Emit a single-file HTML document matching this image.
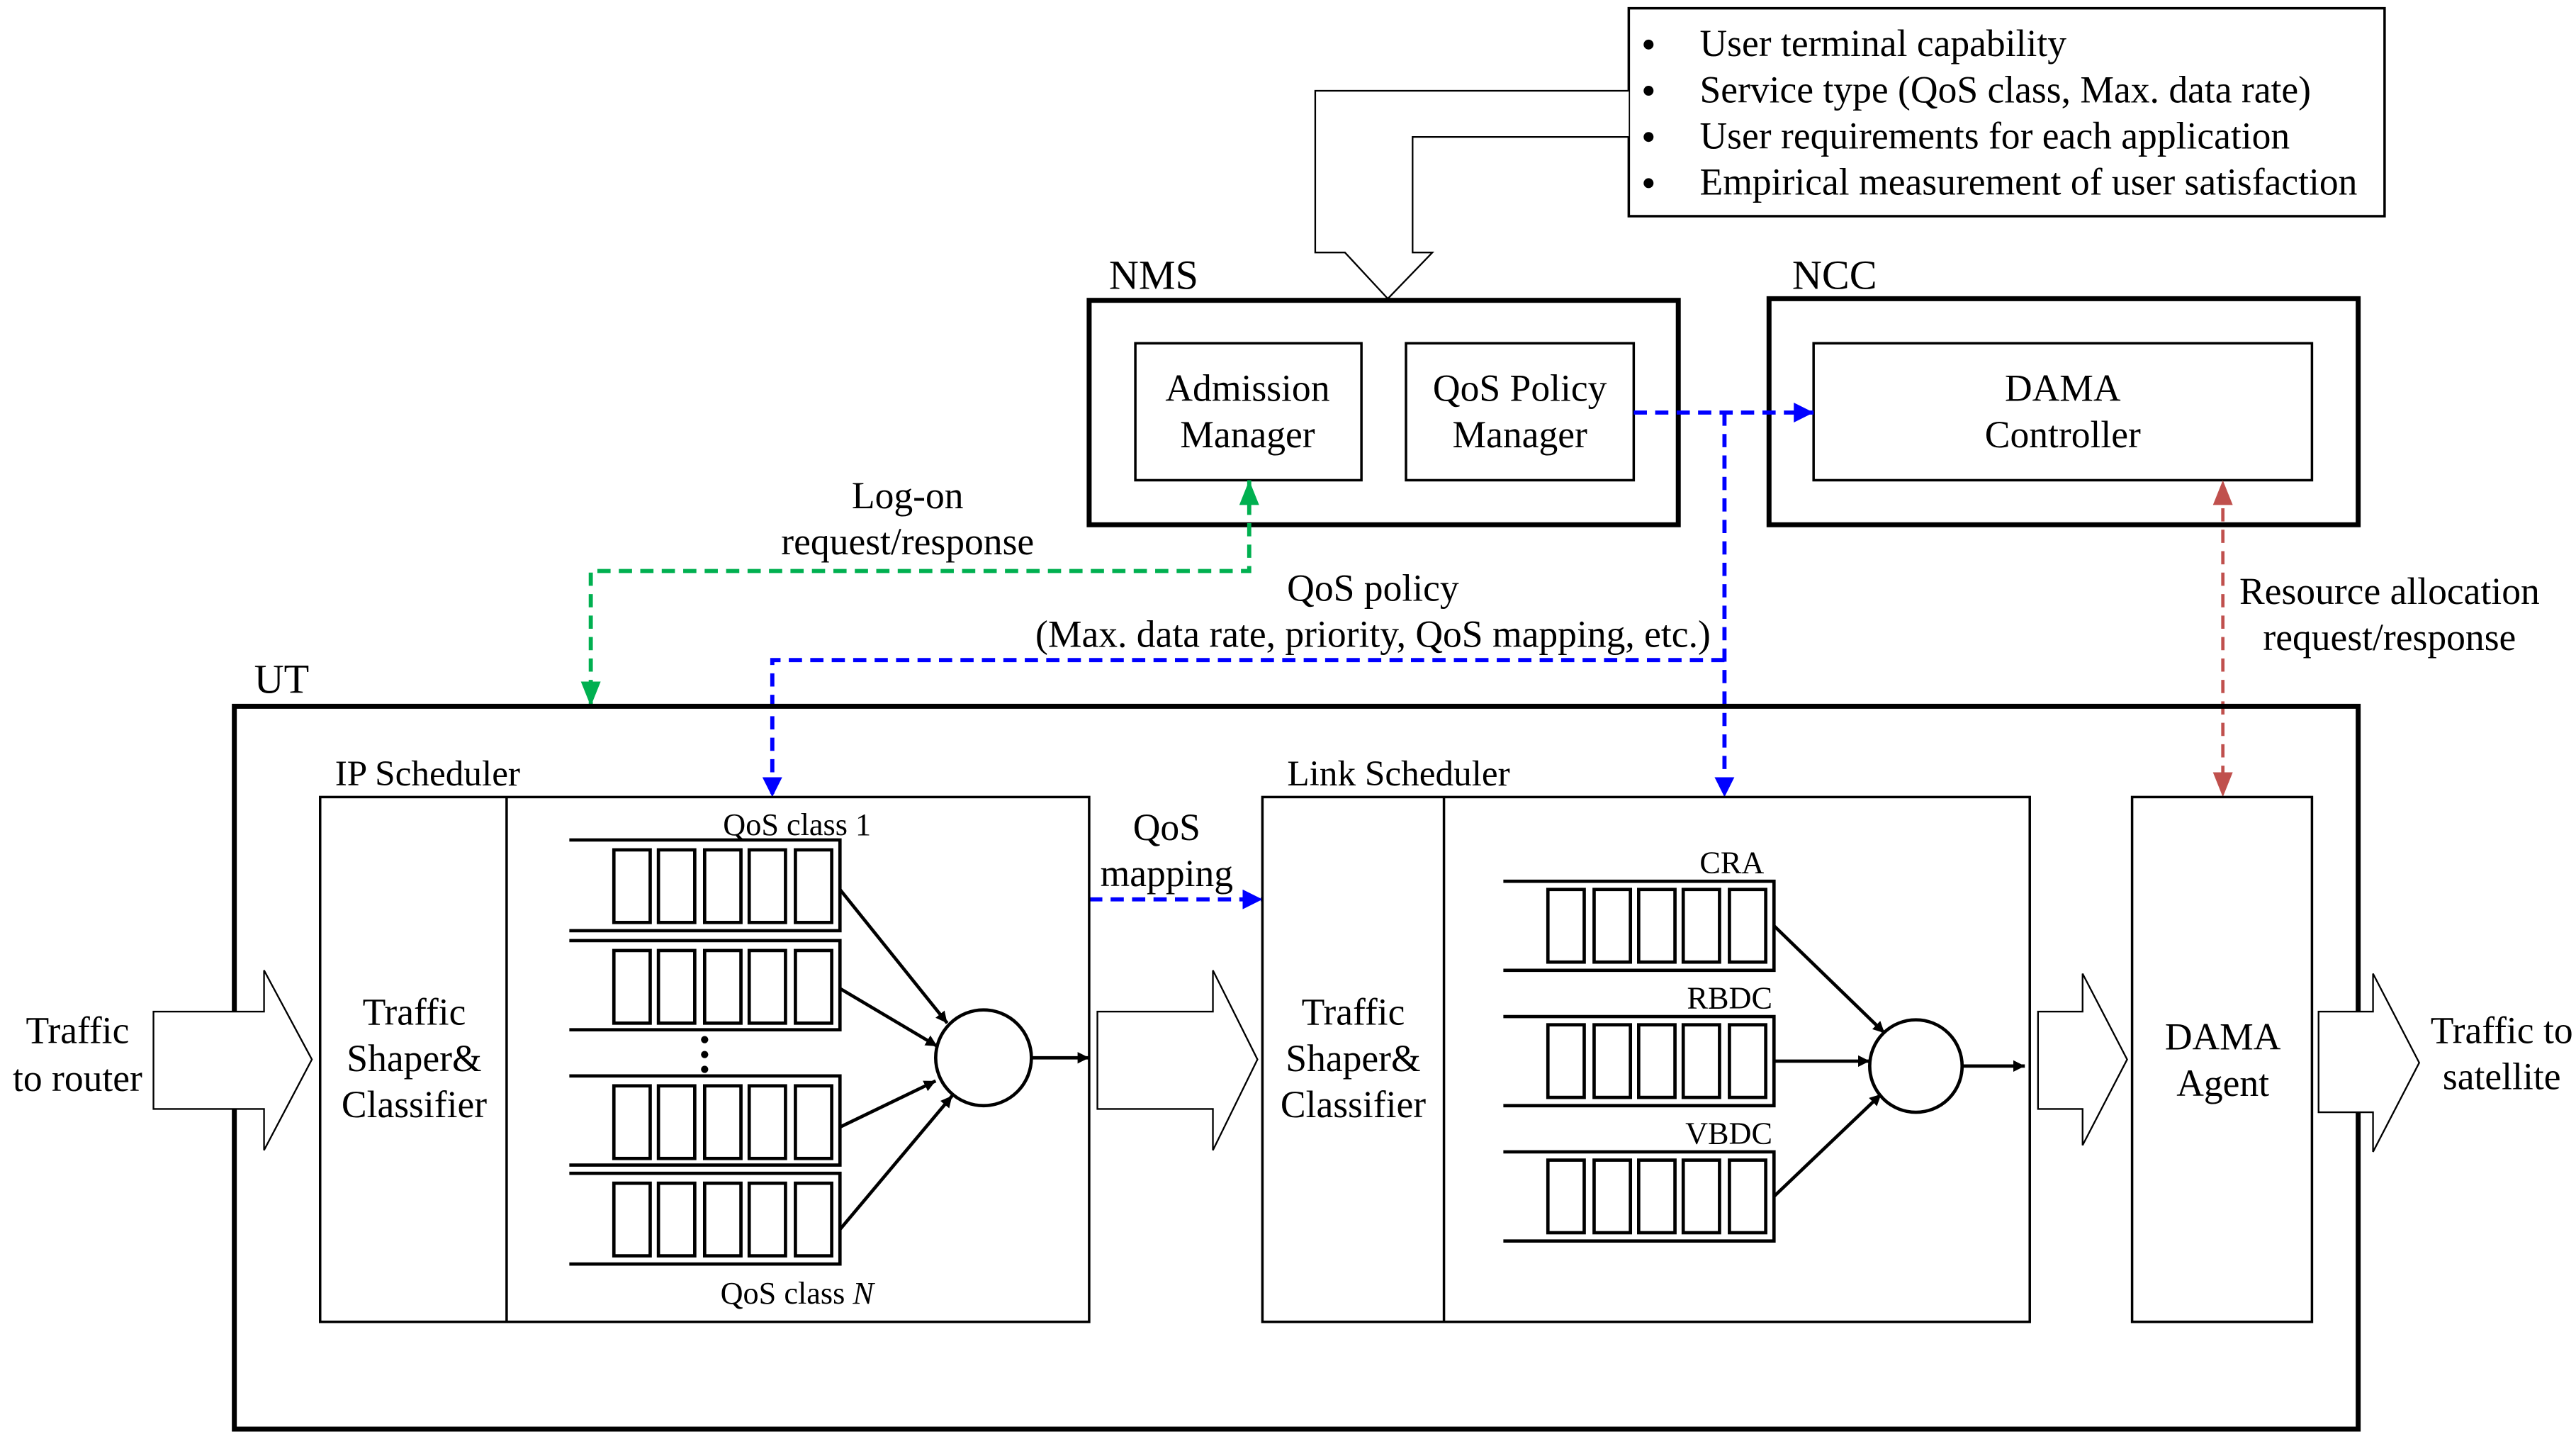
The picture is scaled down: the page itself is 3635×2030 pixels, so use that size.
<!DOCTYPE html>
<html><head><meta charset="utf-8"><style>
html,body{margin:0;padding:0;background:#fff;}
svg{display:block;}
text{font-family:"Liberation Serif","Times New Roman",serif;fill:#000;}
</style></head><body>
<svg width="3635" height="2030" viewBox="0 0 1561 872" preserveAspectRatio="none" xmlns="http://www.w3.org/2000/svg">
<defs>
<marker id="ak" viewBox="0 0 10 10" refX="10" refY="5" markerWidth="7" markerHeight="7" markerUnits="userSpaceOnUse" orient="auto"><path d="M0,0L10,5L0,10z" fill="#000"/></marker>
<marker id="ab" viewBox="0 0 10 10" refX="10" refY="5" markerWidth="12" markerHeight="12" markerUnits="userSpaceOnUse" orient="auto"><path d="M0,0L10,5L0,10z" fill="#0000ff"/></marker>
</defs>

<rect x="987" y="5" width="458" height="126" fill="none" stroke="#000" stroke-width="1.5"/>
<g font-size="23">
<circle cx="999" cy="27" r="3"/><text x="1030" y="34">User terminal capability</text>
<circle cx="999" cy="55" r="3"/><text x="1030" y="62">Service type (QoS class, Max. data rate)</text>
<circle cx="999" cy="83" r="3"/><text x="1030" y="90">User requirements for each application</text>
<circle cx="999" cy="111" r="3"/><text x="1030" y="118">Empirical measurement of user satisfaction</text>
</g>
<path d="M987,55 L797,55 L797,153 L815,153 L841,181 L868,153 L856,153 L856,83 L987,83" fill="#fff" stroke="#000" stroke-width="1"/>

<text x="672" y="175" font-size="25">NMS</text>
<rect x="660" y="182" width="357" height="136" fill="none" stroke="#000" stroke-width="3"/>
<rect x="688" y="208" width="137" height="83" fill="none" stroke="#000" stroke-width="1.5"/>
<text x="756" y="243" font-size="23" text-anchor="middle">Admission</text>
<text x="756" y="271" font-size="23" text-anchor="middle">Manager</text>
<rect x="852" y="208" width="138" height="83" fill="none" stroke="#000" stroke-width="1.5"/>
<text x="921" y="243" font-size="23" text-anchor="middle">QoS Policy</text>
<text x="921" y="271" font-size="23" text-anchor="middle">Manager</text>

<text x="1086" y="175" font-size="25">NCC</text>
<rect x="1072" y="181" width="357" height="137" fill="none" stroke="#000" stroke-width="3"/>
<rect x="1099" y="208" width="302" height="83" fill="none" stroke="#000" stroke-width="1.5"/>
<text x="1250" y="243" font-size="23" text-anchor="middle">DAMA</text>
<text x="1250" y="271" font-size="23" text-anchor="middle">Controller</text>

<g stroke="#0000ff" stroke-width="2.5" fill="none" stroke-dasharray="8,5">
<line x1="990" y1="250" x2="1099" y2="250" marker-end="url(#ab)"/>
<line x1="1045" y1="250" x2="1045" y2="483" marker-end="url(#ab)"/>
<path d="M1045,400 L468,400 L468,483" marker-end="url(#ab)"/>
<line x1="660" y1="545" x2="765" y2="545" marker-end="url(#ab)"/>
</g>
<path d="M757,291 L757,346 L358,346 L358,428" stroke="#00b050" stroke-width="2.5" fill="none" stroke-dasharray="8,5"/>
<path d="M751,306 L757,291 L763,306z" fill="#00b050"/>
<path d="M352,413 L358,428 L364,413z" fill="#00b050"/>
<line x1="1347" y1="295" x2="1347" y2="478" stroke="#c0504d" stroke-width="2" stroke-dasharray="8,5"/>
<path d="M1341,306 L1347,291 L1353,306z" fill="#c0504d"/>
<path d="M1341,468 L1347,483 L1353,468z" fill="#c0504d"/>

<g font-size="23">
<text x="550" y="308" text-anchor="middle">Log-on</text>
<text x="550" y="336" text-anchor="middle">request/response</text>
<text x="832" y="364" text-anchor="middle">QoS policy</text>
<text x="832" y="392" text-anchor="middle">(Max. data rate, priority, QoS mapping, etc.)</text>
<text x="1448" y="366" text-anchor="middle">Resource allocation</text>
<text x="1448" y="394" text-anchor="middle">request/response</text>
<text x="707" y="509" text-anchor="middle">QoS</text>
<text x="707" y="537" text-anchor="middle">mapping</text>
</g>

<text x="154" y="420" font-size="25">UT</text>
<rect x="142" y="428" width="1287" height="438" fill="none" stroke="#000" stroke-width="3"/>

<text x="203" y="476" font-size="22">IP Scheduler</text>
<rect x="194" y="483" width="466" height="318" fill="none" stroke="#000" stroke-width="1.5"/>
<line x1="307" y1="483" x2="307" y2="801" stroke="#000" stroke-width="1.5"/>
<g font-size="23" text-anchor="middle">
<text x="251" y="621">Traffic</text><text x="251" y="649">Shaper&amp;</text><text x="251" y="677">Classifier</text>
</g>
<text x="483" y="506" font-size="19" text-anchor="middle">QoS class 1</text>
<text x="483" y="790" font-size="19" text-anchor="middle">QoS class <tspan font-style="italic">N</tspan></text>
<g stroke="#000" stroke-width="2" fill="none">
<path d="M345,509 L509,509 L509,564 L345,564"/>
<path d="M345,570 L509,570 L509,624 L345,624"/>
<path d="M345,652 L509,652 L509,706 L345,706"/>
<path d="M345,711 L509,711 L509,766 L345,766"/>
<g id="c1"><rect x="372" y="515" width="22" height="44"/><rect x="399" y="515" width="22" height="44"/><rect x="427" y="515" width="22" height="44"/><rect x="454" y="515" width="22" height="44"/><rect x="482" y="515" width="22" height="44"/></g>
<use href="#c1" y="61"/><use href="#c1" y="143"/><use href="#c1" y="202"/>
<ellipse cx="596" cy="641" rx="29" ry="29"/>
<line x1="509" y1="539" x2="574" y2="620" marker-end="url(#ak)"/>
<line x1="509" y1="599" x2="568" y2="634" marker-end="url(#ak)"/>
<line x1="509" y1="683" x2="567" y2="655" marker-end="url(#ak)"/>
<line x1="509" y1="745" x2="577" y2="664" marker-end="url(#ak)"/>
<line x1="625" y1="641" x2="660" y2="641" marker-end="url(#ak)"/>
</g>
<circle cx="427" cy="630" r="2.2"/><circle cx="427" cy="639" r="2.2"/><circle cx="427" cy="648" r="2.2"/>

<text x="780" y="476" font-size="22">Link Scheduler</text>
<rect x="765" y="483" width="465" height="318" fill="none" stroke="#000" stroke-width="1.5"/>
<line x1="875" y1="483" x2="875" y2="801" stroke="#000" stroke-width="1.5"/>
<g font-size="23" text-anchor="middle">
<text x="820" y="621">Traffic</text><text x="820" y="649">Shaper&amp;</text><text x="820" y="677">Classifier</text>
</g>
<g font-size="19" text-anchor="end">
<text x="1069" y="529">CRA</text><text x="1074" y="611">RBDC</text><text x="1074" y="693">VBDC</text>
</g>
<g stroke="#000" stroke-width="2" fill="none">
<path d="M911,534 L1075,534 L1075,588 L911,588"/>
<path d="M911,616 L1075,616 L1075,670 L911,670"/>
<path d="M911,698 L1075,698 L1075,752 L911,752"/>
<g id="c2"><rect x="938" y="539" width="22" height="44"/><rect x="966" y="539" width="22" height="44"/><rect x="993" y="539" width="22" height="44"/><rect x="1020" y="539" width="22" height="44"/><rect x="1048" y="539" width="22" height="44"/></g>
<use href="#c2" y="82"/><use href="#c2" y="164"/>
<ellipse cx="1161" cy="646" rx="28" ry="28"/>
<line x1="1075" y1="561" x2="1142" y2="626" marker-end="url(#ak)"/>
<line x1="1075" y1="643" x2="1133" y2="643" marker-end="url(#ak)"/>
<line x1="1075" y1="725" x2="1140" y2="663" marker-end="url(#ak)"/>
<line x1="1189" y1="646" x2="1227" y2="646" marker-end="url(#ak)"/>
</g>

<rect x="1292" y="483" width="109" height="318" fill="none" stroke="#000" stroke-width="1.5"/>
<text x="1347" y="636" font-size="23" text-anchor="middle">DAMA</text>
<text x="1347" y="664" font-size="23" text-anchor="middle">Agent</text>

<g fill="#fff" stroke="#000" stroke-width="1">
<path d="M93,613 L160,613 L160,588 L189,642 L160,697 L160,672 L93,672z"/>
<path d="M665,613 L735,613 L735,588 L762,642 L735,697 L735,672 L665,672z"/>
<path d="M1235,613 L1262,613 L1262,590 L1289,642 L1262,694 L1262,672 L1235,672z"/>
<path d="M1405,613 L1438,613 L1438,590 L1466,644 L1438,698 L1438,674 L1405,674z"/>
</g>
<g font-size="23" text-anchor="middle">
<text x="47" y="632">Traffic</text><text x="47" y="661">to router</text>
<text x="1516" y="632">Traffic to</text><text x="1516" y="660">satellite</text>
</g>
</svg>
</body></html>
